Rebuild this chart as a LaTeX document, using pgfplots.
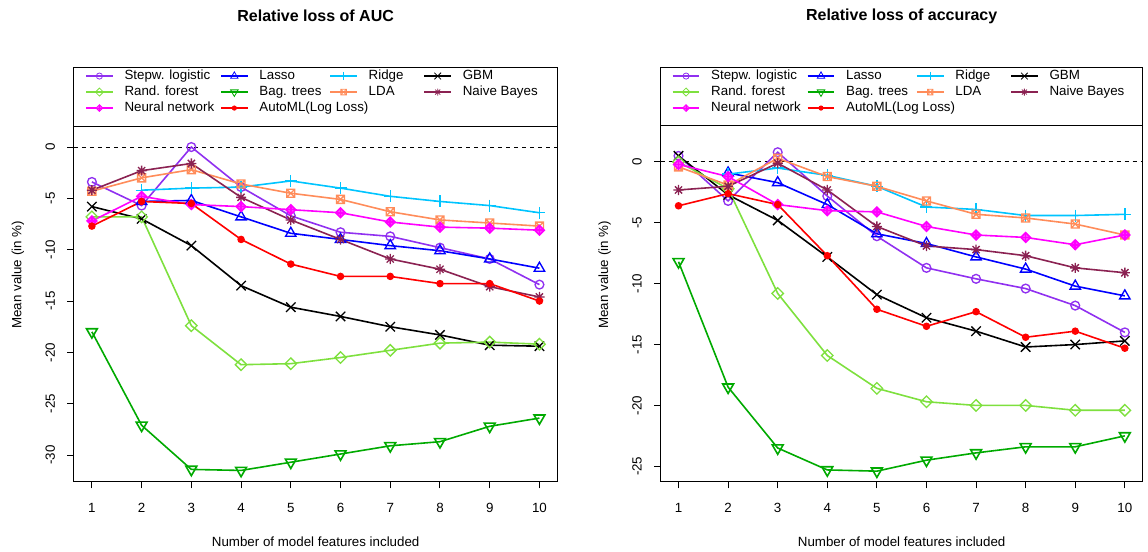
\documentclass[border=0pt]{standalone}
\usepackage{fontspec}
\setmainfont{Liberation Sans}
\usepackage{pgfplots}
\pgfplotsset{compat=1.18}
\usepackage{pgfplotstable}

\definecolor{cstep}{HTML}{9030F0}
\definecolor{crf}{HTML}{7EE03E}
\definecolor{cnn}{HTML}{FF00FF}
\definecolor{classo}{HTML}{0000FF}
\definecolor{cbag}{HTML}{00AA00}
\definecolor{cauto}{HTML}{FF0000}
\definecolor{cridge}{HTML}{00C4FF}
\definecolor{clda}{HTML}{FF8C5A}
\definecolor{cgbm}{HTML}{000000}
\definecolor{cnb}{HTML}{8B2252}

% R-like point symbols
\pgfdeclareplotmark{sqx}{%
  \pgfpathrectangle{\pgfqpoint{-\pgfplotmarksize}{-\pgfplotmarksize}}{\pgfqpoint{2\pgfplotmarksize}{2\pgfplotmarksize}}%
  \pgfpathmoveto{\pgfqpoint{-\pgfplotmarksize}{-\pgfplotmarksize}}\pgfpathlineto{\pgfqpoint{\pgfplotmarksize}{\pgfplotmarksize}}%
  \pgfpathmoveto{\pgfqpoint{-\pgfplotmarksize}{\pgfplotmarksize}}\pgfpathlineto{\pgfqpoint{\pgfplotmarksize}{-\pgfplotmarksize}}%
  \pgfusepathqstroke}
\pgfdeclareplotmark{rdiam}{%
  \pgfpathmoveto{\pgfqpoint{0pt}{\pgfplotmarksize}}\pgfpathlineto{\pgfqpoint{\pgfplotmarksize}{0pt}}%
  \pgfpathlineto{\pgfqpoint{0pt}{-\pgfplotmarksize}}\pgfpathlineto{\pgfqpoint{-\pgfplotmarksize}{0pt}}\pgfpathclose
  \pgfusepathqstroke}
\pgfdeclareplotmark{dplus}{%
  \pgfpathmoveto{\pgfqpoint{0pt}{\pgfplotmarksize}}\pgfpathlineto{\pgfqpoint{\pgfplotmarksize}{0pt}}%
  \pgfpathlineto{\pgfqpoint{0pt}{-\pgfplotmarksize}}\pgfpathlineto{\pgfqpoint{-\pgfplotmarksize}{0pt}}\pgfpathclose
  \pgfusepathqfillstroke
  \pgfpathmoveto{\pgfqpoint{0pt}{\pgfplotmarksize}}\pgfpathlineto{\pgfqpoint{0pt}{-\pgfplotmarksize}}%
  \pgfpathmoveto{\pgfqpoint{-\pgfplotmarksize}{0pt}}\pgfpathlineto{\pgfqpoint{\pgfplotmarksize}{0pt}}%
  \pgfusepathqstroke}
\pgfdeclareplotmark{star8}{%
  \pgfpathmoveto{\pgfqpoint{0pt}{\pgfplotmarksize}}\pgfpathlineto{\pgfqpoint{0pt}{-\pgfplotmarksize}}%
  \pgfpathmoveto{\pgfqpoint{-\pgfplotmarksize}{0pt}}\pgfpathlineto{\pgfqpoint{\pgfplotmarksize}{0pt}}%
  \pgfpathmoveto{\pgfqpoint{-.707\pgfplotmarksize}{-.707\pgfplotmarksize}}\pgfpathlineto{\pgfqpoint{.707\pgfplotmarksize}{.707\pgfplotmarksize}}%
  \pgfpathmoveto{\pgfqpoint{-.707\pgfplotmarksize}{.707\pgfplotmarksize}}\pgfpathlineto{\pgfqpoint{.707\pgfplotmarksize}{-.707\pgfplotmarksize}}%
  \pgfusepathqstroke}

% relative loss of AUC (in %)
\pgfplotstableread{
x  stepw  rf     nn    lasso  bag    automl ridge lda   gbm    nb
1  -3.4   -6.8   -7.2  nan    -18.0  -7.7   nan   -4.3  -5.8   -4.2
2  -5.7   -6.8   -4.8  -5.3   -27.1  -5.3   -4.2  -3.0  -7.0   -2.3
3  0.0    -17.4  -5.6  -5.2   -31.4  -5.5   -4.0  -2.2  -9.6   -1.6
4  -3.9   -21.2  -5.8  -6.8   -31.5  -9.0   -3.9  -3.6  -13.5  -4.9
5  -6.7   -21.1  -6.1  -8.4   -30.7  -11.4  -3.3  -4.5  -15.6  -7.1
6  -8.3   -20.5  -6.4  -9.0   -29.9  -12.6  -4.0  -5.1  -16.5  -9.0
7  -8.7   -19.8  -7.3  -9.6   -29.1  -12.6  -4.8  -6.3  -17.5  -10.9
8  -9.8   -19.1  -7.8  -10.1  -28.7  -13.3  -5.3  -7.1  -18.3  -11.9
9  -10.9  -19.0  -7.9  -10.9  -27.2  -13.3  -5.7  -7.4  -19.3  -13.6
10 -13.4  -19.2  -8.1  -11.8  -26.4  -15.0  -6.4  -7.7  -19.4  -14.6
}\auc

% relative loss of accuracy (in %)
\pgfplotstableread{
x  stepw  rf     nn    lasso  bag    automl ridge lda   gbm    nb
1  0.5    0.0    -0.2  nan    -8.2   -3.6   nan   -0.4  0.5    -2.3
2  -3.2   -2.2   -1.2  -0.9   -18.5  -2.6   -1.0  -1.9  -2.7   -2.0
3  0.8    -10.8  -3.5  -1.7   -23.5  -3.5   -0.5  0.3   -4.8   -0.1
4  -2.8   -15.9  -4.0  -3.5   -25.3  -7.7   -1.1  -1.2  -7.8   -2.3
5  -6.1   -18.6  -4.1  -5.9   -25.4  -12.1  -2.0  -2.0  -10.9  -5.3
6  -8.7   -19.7  -5.3  -6.7   -24.5  -13.5  -3.7  -3.2  -12.8  -6.9
7  -9.6   -20.0  -6.0  -7.8   -23.9  -12.3  -3.9  -4.3  -13.9  -7.2
8  -10.4  -20.0  -6.2  -8.8   -23.4  -14.4  -4.4  -4.6  -15.2  -7.7
9  -11.8  -20.4  -6.8  -10.2  -23.4  -13.9  -4.4  -5.1  -15.0  -8.7
10 -14.0  -20.4  -6.0  -11.0  -22.5  -15.3  -4.3  -6.0  -14.7  -9.1
}\acc

\pgfplotsset{
  panel/.style={
    scale only axis, width=362.5pt, height=310.3pt,
    xmin=0.64, xmax=10.36, xtick={1,...,10},
    axis line style={line width=0.75pt},
    tick style={line width=0.75pt, black},
    tick align=outside, major tick length=5pt,
    xtick pos=bottom, ytick pos=left,
    /pgf/number format/assume math mode=true,
    tick label style={font=\fontsize{10}{12}\selectfont},
    yticklabel style={rotate=90, anchor=south, inner sep=0pt},
    yticklabel shift=9pt,
    xticklabel style={anchor=north, inner sep=0pt},
    xticklabel shift=11pt,
    title style={at={(0.5,1)}, anchor=center, yshift=33pt, font=\bfseries\fontsize{12}{14}\selectfont},
    every axis x label/.style={at={(axis description cs:0.5,0)}, anchor=center, yshift=-45pt, font=\fontsize{10}{12}\selectfont},
    every axis y label/.style={at={(axis description cs:0,0.5)}, xshift=-42pt, rotate=90, anchor=center, font=\fontsize{10}{12}\selectfont},
    xlabel={Number of model features included},
    ylabel={Mean value (in \%)},
    legend columns=4,
    legend style={at={(axis description cs:0,1)}, anchor=north west, xshift=8.25pt, yshift=0pt,
      draw=none, fill=none, inner sep=0pt,
      font=\fontsize{10}{12}\selectfont,
      nodes={inner sep=1pt, text height=7.5pt, text depth=2.2pt},
      row sep=0.3pt,
      /tikz/every odd column/.append style={column sep=7.25pt},
      /tikz/column 2/.style={column sep=3.5pt},
      /tikz/column 4/.style={column sep=5pt},
      /tikz/column 6/.style={column sep=14pt}},
    legend cell align=left,
    legend image code/.code={\draw[mark repeat=2, mark phase=2, every mark/.append style={scale=0.7, line width=0.6pt}]
      plot coordinates {(0pt,0pt) (10pt,0pt) (20pt,0pt)};},
    every axis plot/.append style={line width=1.2pt, mark options={solid, line width=1pt}},
  },
  s-step/.style={color=cstep, mark=o, mark size=3.3pt},
  s-lasso/.style={color=classo, mark=triangle, mark size=4.5pt},
  s-ridge/.style={color=cridge, mark=+, mark size=4.5pt},
  s-gbm/.style={color=cgbm, mark=x, mark size=5pt},
  s-rf/.style={color=crf, mark=rdiam, mark size=4.3pt},
  s-bag/.style={color=cbag, mark=triangle, mark size=4.7pt, mark options={rotate=180}},
  s-lda/.style={color=clda, mark=sqx, mark size=3pt},
  s-nb/.style={color=cnb, mark=star8, mark size=3.8pt},
  s-nn/.style={color=cnn, mark=dplus, mark size=3.6pt, mark options={fill=cnn!75!white}},
  s-auto/.style={color=cauto, mark=*, mark size=2.3pt},
}

\newcommand\allseries[1]{%
  \addplot[s-step]  table[x=x, y=stepw]  {#1};
  \addplot[s-lasso] table[x=x, y=lasso]  {#1};
  \addplot[s-ridge] table[x=x, y=ridge]  {#1};
  \addplot[s-gbm]   table[x=x, y=gbm]    {#1};
  \addplot[s-rf]    table[x=x, y=rf]     {#1};
  \addplot[s-bag]   table[x=x, y=bag]    {#1};
  \addplot[s-lda]   table[x=x, y=lda]    {#1};
  \addplot[s-nb]    table[x=x, y=nb]     {#1};
  \addplot[s-nn]    table[x=x, y=nn]     {#1};
  \addplot[s-auto]  table[x=x, y=automl] {#1};
  \legend{Stepw. logistic, Lasso, Ridge, GBM, Rand. forest, Bag. trees, LDA, Naive Bayes,
    Neural network, \makebox[0pt][l]{AutoML(Log Loss)}}
}

\begin{document}
\begin{tikzpicture}
\path (0,0) rectangle (861pt,-413.25pt);

\begin{axis}[panel, at={(55.5pt,-51pt)}, anchor=north west,
  ymin=-32.6, ymax=7.7, ytick={-30,-25,...,0},
  title={Relative loss of AUC}]
\draw[line width=0.75pt, dash pattern=on 3pt off 3pt] (axis cs:0.64,0) -- (axis cs:10.36,0);
\draw[line width=0.75pt] (axis cs:0.64,2.04) -- (axis cs:10.36,2.04);
\allseries{\auc}
\end{axis}

\begin{axis}[panel, at={(495.5pt,-51pt)}, anchor=north west, width=361.5pt,
  ymin=-26.27, ymax=7.72, ytick={-25,-20,...,0},
  title={Relative loss of accuracy}]
\draw[line width=0.75pt, dash pattern=on 3pt off 3pt] (axis cs:0.64,0) -- (axis cs:10.36,0);
\draw[line width=0.75pt] (axis cs:0.64,2.96) -- (axis cs:10.36,2.96);
\allseries{\acc}
\end{axis}
\end{tikzpicture}
\end{document}
